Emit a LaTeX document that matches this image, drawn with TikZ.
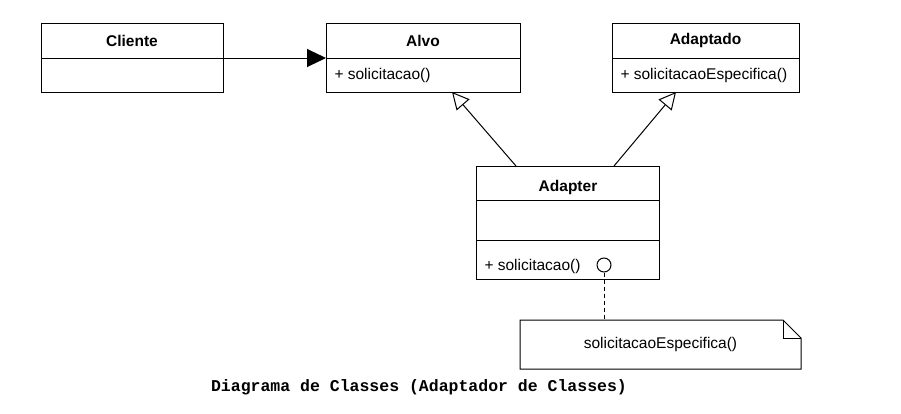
\documentclass[tikz,border=0pt]{standalone}
\usepackage{fontspec}
\setmainfont{Liberation Sans}
\newfontfamily\capfont{Liberation Mono}
\usetikzlibrary{arrows.meta,calc}
\begin{document}
\begin{tikzpicture}[x=1pt,y=-1pt,line width=1pt,
  box/.style={anchor=north west,inner sep=0pt,font=\fontsize{15.5}{18}\selectfont},
  hdr/.style={box,font=\fontsize{15.5}{18}\selectfont\bfseries},
  mtxt/.style={anchor=west,inner sep=0pt,font=\fontsize{15.5}{18}\selectfont},
  gen/.style={-{Triangle[open,length=17pt,width=17pt,fill=white]}},
]
\useasboundingbox (0,0) rectangle (901,413);
% Cliente
\node[hdr,minimum width=181pt,minimum height=34pt] (cli) at (41,23) {Cliente};
\node[box,minimum width=181pt,minimum height=33pt] (clib) at (cli.south west) {};
\draw (cli.north west) rectangle (clib.south east) (cli.south west) -- (cli.south east);
% Alvo
\node[hdr,minimum width=193pt,minimum height=34pt] (alvo) at (326,23) {Alvo};
\node[box,minimum width=193pt,minimum height=33pt] (alvob) at (alvo.south west) {};
\draw (alvo.north west) rectangle (alvob.south east) (alvo.south west) -- (alvo.south east);
\node[mtxt] (alvom) at ($(alvob.west)+(8,0)$) {+ solicitacao()};
% Adaptado
\node[hdr,minimum width=186pt,minimum height=34pt] (adpt) at (612,23) {Adaptado};
\node[box,minimum width=186pt,minimum height=33pt] (adptb) at (adpt.south west) {};
\draw (adpt.north west) rectangle (adptb.south east) (adpt.south west) -- (adpt.south east);
\node[mtxt] (adptm) at ($(adptb.west)+(8,0)$) {+ solicitacaoEspecifica()};
% Adapter
\node[hdr,minimum width=183pt,minimum height=34pt,text depth=0pt,yshift=-2pt] (adh) at (476,166) {Adapter};
\coordinate (adnw) at (476,166);
\coordinate (adsep1) at (476,200);
\coordinate (adsep2) at (476,240);
\coordinate (adse) at (659,279);
\node[box,minimum width=183pt,minimum height=39pt] (adb) at (adsep2) {};
\draw (adnw) rectangle (adse) (adsep1) -- (adsep1 -| adse) (adsep2) -- (adsep2 -| adse);
\node[mtxt] (adbm) at ($(adb.west)+(8,6)$) {+ solicitacao()};
\node[draw,circle,minimum size=14pt,inner sep=0pt] (circ) at (604,265) {};
% Note
\node[minimum width=280pt,minimum height=48pt,inner sep=0pt,anchor=north west,font=\fontsize{15.5}{18}\selectfont] (note) at (520,320) {solicitacaoEspecifica()};
\draw (note.north west) -- ($(note.north east)+(-18,0)$) -- ($(note.north east)+(0,18)$) -- (note.south east) -- (note.south west) -- cycle;
\draw ($(note.north east)+(-18,0)$) -- ($(note.north east)+(-18,18)$) -- ($(note.north east)+(0,18)$);
% Connectors
\coordinate (cliend) at (cli.south east);
\draw[-{Triangle[length=19pt,width=18pt]}] (cliend) -- (alvo.south west);
\draw[gen] ($(adnw)+(40,0)$) -- ($(alvob.south west)+(126,0)$);
\draw[gen] ($(adnw)+(138,0)$) -- ($(adptb.south west)+(64,0)$);
\draw[dashed,dash pattern=on 4pt off 3pt] (circ.south) -- (circ.south |- note.north);
% Caption
\node[font=\capfont\fontsize{16.5}{18}\selectfont\bfseries] (cap) at (419,387) {Diagrama de Classes (Adaptador de Classes)};
\end{tikzpicture}
\end{document}
